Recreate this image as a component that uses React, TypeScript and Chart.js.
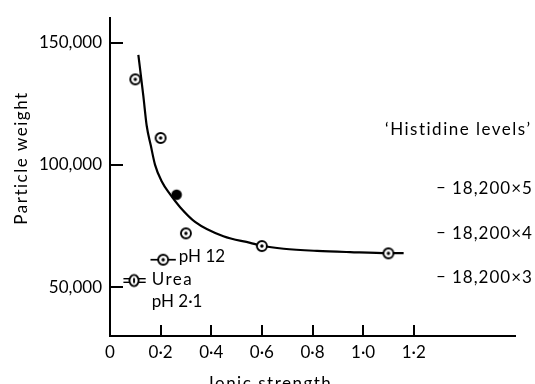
import React, { useEffect, useRef } from "react";
import { Chart, registerables } from "chart.js";

Chart.register(...registerables);

// Smooth fitted curve
const curveX = [0.112, 0.132, 0.145, 0.161, 0.178, 0.204, 0.237, 0.277, 0.336, 0.448, 0.554, 0.6, 0.686, 0.818, 0.949, 1.1, 1.16];
const curveY = [145000, 127900, 116000, 108000, 100000, 93300, 88000, 82700, 76700, 70800, 68100, 66900, 65700, 64800, 64300, 63900, 63900];

// Open circled points
const openX = [0.1, 0.2, 0.3, 0.6, 1.1];
const openY = [135000, 111000, 72000, 66800, 63800];

// Filled point
const filledX = [0.263];
const filledY = [87800];

// pH 12 point with horizontal range
const ph12X = [0.21];
const ph12Y = [61200];
const ph12Range = [0.16, 0.26];

// Urea pH 2·1 point with horizontal range
const ureaX = [0.095];
const ureaY = [52700];
const ureaRange = [0.053, 0.141];

// Axes
const xTicks = [0, 0.2, 0.4, 0.6, 0.8, 1.0, 1.2];
const xTickLabels = ["0", "0·2", "0·4", "0·6", "0·8", "1·0", "1·2"];
const yTicks = [50000, 100000, 150000];
const yTickLabels = ["50,000", "100,000", "150,000"];

// 'Histidine levels'
const histidineUnit = 18200;
const histidineMultiples = [5, 4, 3];
const histidineLabels = ["18,200×5", "18,200×4", "18,200×3"];

const FONT = "Lato, 'Open Sans', sans-serif";

function makeMarker(kind: "open" | "filled" | "urea"): HTMLCanvasElement {
  const c = document.createElement("canvas");
  c.width = 16;
  c.height = 16;
  const g = c.getContext("2d")!;
  g.strokeStyle = "#000";
  g.fillStyle = "#fff";
  g.lineWidth = 1.9;
  if (kind === "filled") {
    g.fillStyle = "#000";
    g.beginPath();
    g.arc(8, 8, 5.3, 0, Math.PI * 2);
    g.fill();
  } else if (kind === "urea") {
    g.beginPath();
    g.ellipse(8, 8, 4.6, 5.6, 0, 0, Math.PI * 2);
    g.fill();
    g.stroke();
    g.lineWidth = 1.9;
    g.beginPath();
    g.moveTo(8, 5.5);
    g.lineTo(8, 10.5);
    g.stroke();
  } else {
    g.beginPath();
    g.arc(8, 8, 5, 0, Math.PI * 2);
    g.fill();
    g.stroke();
    g.fillStyle = "#000";
    g.beginPath();
    g.arc(8, 8, 1.7, 0, Math.PI * 2);
    g.fill();
  }
  return c;
}

const zip = (xs: number[], ys: number[]) => xs.map((x, i) => ({ x, y: ys[i] }));

export default function App() {
  const ref = useRef<HTMLCanvasElement | null>(null);

  useEffect(() => {
    if (!ref.current) return;
    const openMarker = makeMarker("open");
    const filledMarker = makeMarker("filled");
    const ureaMarker = makeMarker("urea");

    const decor = {
      id: "decor",
      beforeDatasetsDraw(chart: any) {
        const { ctx } = chart;
        const xs = chart.scales.x;
        const ys = chart.scales.y;
        ctx.save();
        ctx.strokeStyle = "#000";
        // pH 12 range bar
        ctx.lineWidth = 1.7;
        let py = ys.getPixelForValue(ph12Y[0]);
        ctx.beginPath();
        ctx.moveTo(xs.getPixelForValue(ph12Range[0]), py);
        ctx.lineTo(xs.getPixelForValue(ph12Range[1]), py);
        ctx.stroke();
        // Urea double bar
        py = ys.getPixelForValue(ureaY[0]);
        ctx.lineWidth = 1.4;
        for (const off of [-1.8, 1.8]) {
          ctx.beginPath();
          ctx.moveTo(xs.getPixelForValue(ureaRange[0]), py + off);
          ctx.lineTo(xs.getPixelForValue(ureaRange[1]), py + off);
          ctx.stroke();
        }
        ctx.restore();
      },
      afterDraw(chart: any) {
        const { ctx, chartArea } = chart;
        const xs = chart.scales.x;
        const ys = chart.scales.y;
        ctx.save();
        ctx.strokeStyle = "#000";
        ctx.fillStyle = "#000";
        ctx.lineWidth = 2;
        // inward tick marks
        for (const t of xTicks) {
          if (t === 0) continue;
          const px = Math.round(xs.getPixelForValue(t));
          ctx.beginPath();
          ctx.moveTo(px, chartArea.bottom);
          ctx.lineTo(px, chartArea.bottom - 11);
          ctx.stroke();
        }
        for (const t of yTicks) {
          const py = Math.round(ys.getPixelForValue(t));
          ctx.beginPath();
          ctx.moveTo(chartArea.left, py);
          ctx.lineTo(chartArea.left + 13, py);
          ctx.stroke();
        }
        const setSpacing = (s: string) => {
          try { (ctx as any).letterSpacing = s; } catch (e) { /* ignore */ }
        };
        // point labels
        ctx.font = `17px ${FONT}`;
        ctx.textAlign = "left";
        ctx.textBaseline = "alphabetic";
        setSpacing("0px");
        ctx.fillText("pH 12", xs.getPixelForValue(ph12Range[1]) + 3, ys.getPixelForValue(ph12Y[0]) + 2);
        ctx.fillText("pH 2·1", xs.getPixelForValue(ureaRange[1]) + 6, ys.getPixelForValue(ureaY[0]) + 26);
        setSpacing("1.5px");
        ctx.fillText("Urea", xs.getPixelForValue(ureaRange[1]) + 6, ys.getPixelForValue(ureaY[0]) + 4.5);
        // Histidine levels
        ctx.textBaseline = "middle";
        ctx.fillText("‘Histidine levels’", 385, 130);
        setSpacing("1px");
        histidineMultiples.forEach((m, i) => {
          const py = ys.getPixelForValue(histidineUnit * m);
          ctx.fillText("–", 436, py + 1);
          ctx.fillText(histidineLabels[i], 452, py + 2);
        });
        // axis titles
        setSpacing("1.5px");
        ctx.textBaseline = "alphabetic";
        ctx.fillText("Ionic strength", 209, 389);
        ctx.translate(27, 158);
        ctx.rotate(-Math.PI / 2);
        ctx.textAlign = "center";
        ctx.fillText("Particle weight", 0, 0);
        setSpacing("0px");
        ctx.restore();
      },
    };

    const chart = new Chart(ref.current, {
      type: "scatter",
      data: {
        datasets: [
          {
            data: zip(openX, openY),
            pointStyle: openMarker as any,
            pointRadius: 8,
          },
          {
            data: zip(filledX, filledY),
            pointStyle: filledMarker as any,
            pointRadius: 8,
          },
          {
            data: zip(ph12X, ph12Y),
            pointStyle: openMarker as any,
            pointRadius: 8,
          },
          {
            data: zip(ureaX, ureaY),
            pointStyle: ureaMarker as any,
            pointRadius: 8,
          },
          {
            data: zip(curveX, curveY),
            showLine: true,
            borderColor: "#000",
            borderWidth: 2.2,
            pointRadius: 0,
            cubicInterpolationMode: "monotone",
          } as any,
        ],
      },
      options: {
        responsive: false,
        animation: false,
        events: [],
        layout: { padding: { top: 10, right: 20, left: 0, bottom: 0 } },
        plugins: {
          legend: { display: false },
          tooltip: { enabled: false },
        },
        scales: {
          x: {
            type: "linear",
            min: 0,
            max: 1.6,
            grid: { display: false, drawTicks: false },
            border: { display: true, color: "#000", width: 2 },
            afterBuildTicks: (s: any) => {
              s.ticks = xTicks.map((v) => ({ value: v }));
            },
            afterFit: (s: any) => {
              s.height = 48;
            },
            ticks: {
              color: "#000",
              font: { family: FONT, size: 17 },
              padding: 6,
              maxRotation: 0,
              autoSkip: false,
              callback: (v: any) => {
                const i = xTicks.findIndex((t) => Math.abs(t - Number(v)) < 1e-9);
                return i >= 0 ? xTickLabels[i] : "";
              },
            },
          },
          y: {
            type: "linear",
            min: 30000,
            max: 160000,
            grid: { display: false, drawTicks: false },
            border: { display: true, color: "#000", width: 2 },
            afterBuildTicks: (s: any) => {
              s.ticks = yTicks.map((v) => ({ value: v }));
            },
            afterFit: (s: any) => {
              s.width = 110;
            },
            ticks: {
              color: "#000",
              font: { family: FONT, size: 17 },
              padding: 8,
              autoSkip: false,
              callback: (v: any) => {
                const i = yTicks.indexOf(Number(v));
                return i >= 0 ? yTickLabels[i] : "";
              },
            },
          },
        },
      },
      plugins: [decor],
    });
    return () => chart.destroy();
  }, []);

  return (
    <div style={{ position: "fixed", left: 0, top: 0, width: 535, height: 384, background: "#fff" }}>
      <canvas ref={ref} width={535} height={384} style={{ display: "block" }} />
    </div>
  );
}
